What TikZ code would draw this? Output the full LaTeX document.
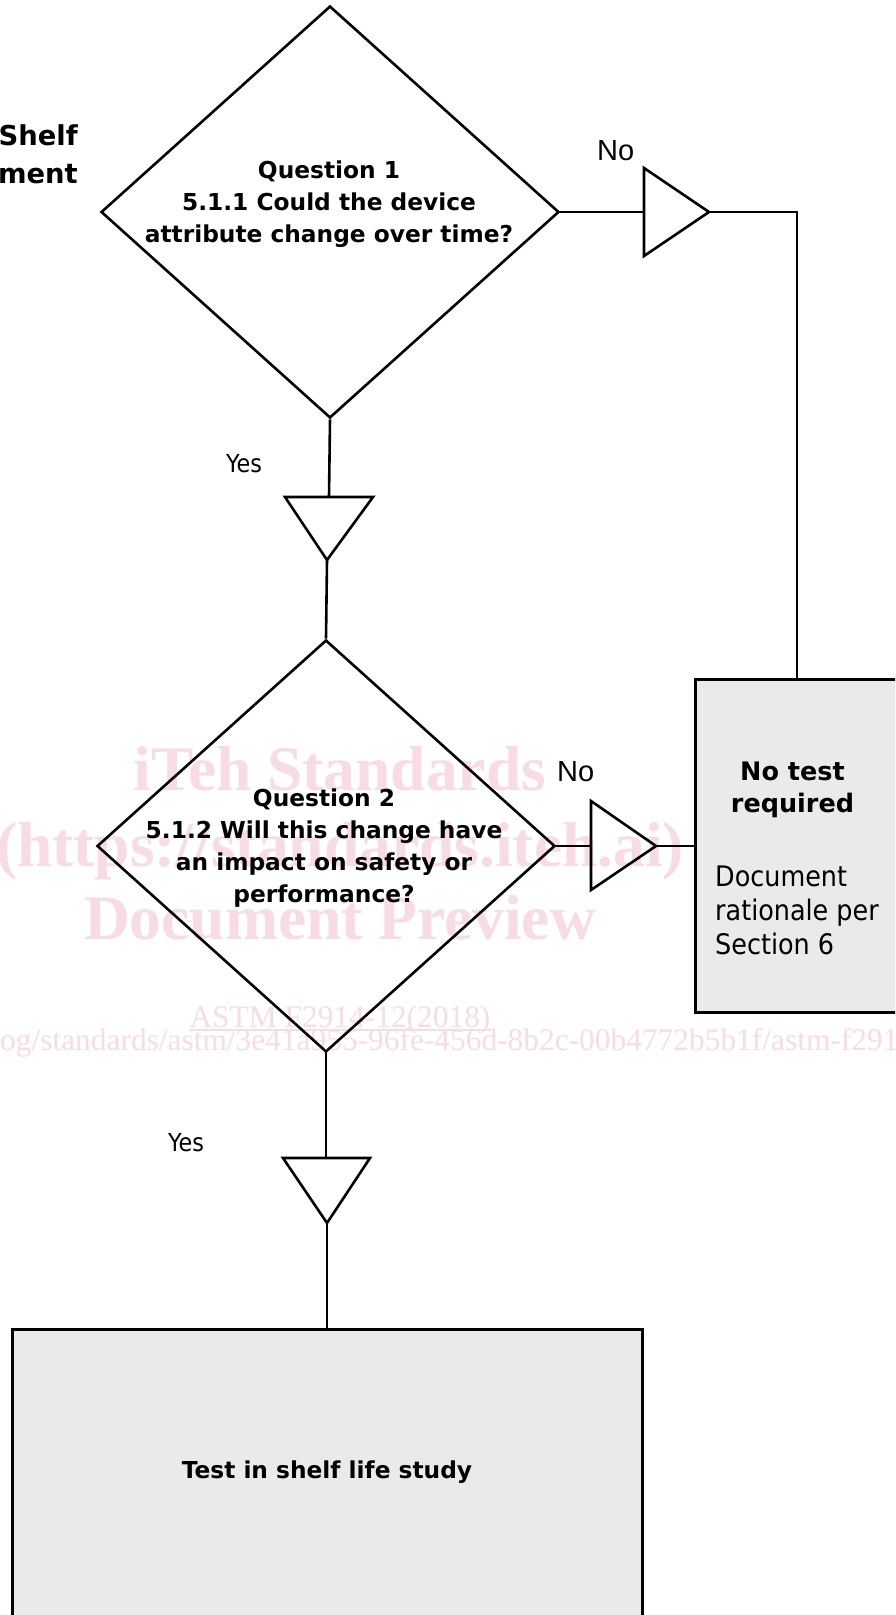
\documentclass[tikz,border=0pt]{standalone}
\usepackage{fontspec}
\usetikzlibrary{shapes.geometric}
\newfontfamily\dvs{DejaVu Sans}
\newfontfamily\dvsc{DejaVu Sans Condensed}
\newfontfamily\libsans{Liberation Sans}
\newfontfamily\libserif{Liberation Serif}
\definecolor{boxgray}{RGB}{234,234,234}
\definecolor{wmpink}{RGB}{249,220,227}
\tikzset{
  ln/.style={line width=2.6pt, draw=black},
  dia/.style={diamond, draw=black, line width=2.6pt, inner sep=0pt,
    minimum width=458pt, minimum height=412pt},
  boxs/.style={rectangle, draw=black, line width=3pt, fill=boxgray, inner sep=0pt},
  tri/.style={draw=black, line width=2.6pt, line join=miter},
  qtext/.style={inner sep=0pt, align=center, font=\dvs\bfseries\fontsize{23.3pt}{32pt}\selectfont},
  lbl/.style={inner sep=0pt, font=\libsans\fontsize{29pt}{34pt}\selectfont},
  yeslbl/.style={inner sep=0pt, font=\dvsc\fontsize{24.8pt}{30pt}\selectfont},
  wmbig/.style={inner sep=0pt, text=wmpink, font=\libserif\bfseries\fontsize{63.5pt}{70pt}\selectfont},
  wmsmall/.style={inner sep=0pt, text=wmpink, font=\libserif\fontsize{31.4pt}{36pt}\selectfont},
}
\begin{document}
\begin{tikzpicture}[x=1pt, y=-1pt]
\useasboundingbox (0,0) rectangle (895,1615);
\clip (0,0) rectangle (895,1615);
\fill[white] (0,0) rectangle (895,1615);

% watermark
\node[wmbig, anchor=base] (wm1) at (340,790) {iTeh Standards};
\node[wmbig, anchor=base] (wm2) at (340,866) {(https://standards.iteh.ai)};
\node[wmbig, anchor=base] (wm3) at (340,939) {Document Preview};
\node[wmsmall, anchor=base] (wm4) at (340,1027) {ASTM F2914-12(2018)};
\draw[wmpink, line width=1.5pt] ([yshift=-3pt]wm4.base west) -- ([yshift=-3pt]wm4.base east);
\node[wmsmall, anchor=base west] (wm5) at (0,1050) {og/standards/astm/3e41a955-96fe-456d-8b2c-00b4772b5b1f/astm-f291};

% title fragments
\node[inner sep=0pt, anchor=base east, font=\dvs\bfseries\fontsize{27.4pt}{32pt}\selectfont] (t1) at (78,145) {Shelf};
\node[inner sep=0pt, anchor=base east, font=\dvs\bfseries\fontsize{27.4pt}{32pt}\selectfont] (t2) at (78,183) {ment};

% diamonds
\node[dia] (d1) at (330,212) {};
\node[qtext, anchor=north] (q1) at (329,160.5) {Question 1\\5.1.1 Could the device\\attribute change over time?};
\node[dia] (d2) at (326,846) {};
\node[qtext, anchor=north] (q2) at (324,788.5) {Question 2\\5.1.2 Will this change have\\an impact on safety or\\performance?};

% boxes
\node[boxs, minimum width=204pt, minimum height=333pt] (b1) at (797,846) {};
\node[inner sep=0pt, anchor=north, align=center, font=\dvs\bfseries\fontsize{25.5pt}{32pt}\selectfont] (b1t) at (792.5,762) {No test\\required};
\node[inner sep=0pt, anchor=north west, align=left, font=\dvsc\fontsize{28.3pt}{34pt}\selectfont] (b1d) at (715,865.7) {Document\\rationale per\\Section 6};
\node[boxs, minimum width=630pt, minimum height=287pt, font=\dvs\bfseries\fontsize{23.3pt}{30pt}\selectfont] (b2) at (327,1472.5) {\raisebox{-2pt}{Test in shelf life study}};

% triangles
\draw[tri] (644,168) -- (709,212) -- (644,256) -- cycle;
\coordinate (t1a) at (644,212);
\coordinate (t1b) at (709,212);
\draw[tri] (591,801) -- (656,846) -- (591,890) -- cycle;
\coordinate (t2a) at (591,846);
\coordinate (t2b) at (656,846);
\draw[tri] (285,497) -- (373,497) -- (327,560) -- cycle;
\coordinate (t3a) at (329,497);
\coordinate (t3b) at (327,560);
\draw[tri] (283,1158) -- (370,1158) -- (327,1223) -- cycle;
\coordinate (t4a) at (326,1158);
\coordinate (t4b) at (327,1223);

% connectors
\draw[ln] (d1.east) -- (t1a);
\draw[ln] (t1b) -| (b1.north);
\draw[ln] (d1.south) -- (t3a);
\draw[ln] (t3b) -- (d2.north);
\draw[ln] (d2.east) -- (t2a);
\draw[ln] (t2b) -- (b1.west);
\draw[ln] (d2.south) -- (t4a);
\draw[ln] (t4b) -- (b2.north);

% labels
\node[lbl, anchor=base west] (no1) at (597,160.5) {No};
\node[lbl, anchor=base west] (no2) at (557,781) {No};
\node[yeslbl, anchor=base west] (yes1) at (226,472.5) {Yes};
\node[yeslbl, anchor=base west] (yes2) at (168,1151) {Yes};
\end{tikzpicture}
\end{document}
